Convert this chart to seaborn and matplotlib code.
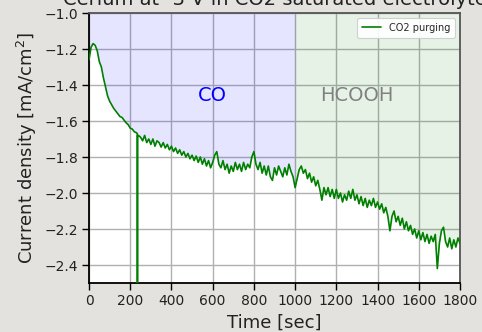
import numpy as np
import pandas as pd
import matplotlib
matplotlib.use("Agg")
import matplotlib.pyplot as plt
import seaborn as sns

# Chronoamperometry at -3 V, one reading every 10 s (mA/cm^2)
sample_step = 10
current_density = [
    -1.26, -1.19, -1.17, -1.18, -1.21, -1.27, -1.30, -1.36, -1.41, -1.46,    # 0-90
    -1.49, -1.51, -1.53, -1.545, -1.56, -1.575, -1.58, -1.595, -1.61, -1.62,  # 100-190
    -1.64, -1.645, -1.66, -1.665, -1.68, -1.69, -1.71, -1.68, -1.72, -1.70,   # 200-290
    -1.73, -1.70, -1.74, -1.71, -1.72, -1.745, -1.72, -1.75, -1.73, -1.76,    # 300-390
    -1.74, -1.77, -1.75, -1.78, -1.76, -1.79, -1.77, -1.80, -1.78, -1.81,     # 400-490
    -1.79, -1.82, -1.795, -1.83, -1.80, -1.84, -1.81, -1.85, -1.82, -1.86,    # 500-590
    -1.83, -1.79, -1.77, -1.84, -1.86, -1.82, -1.87, -1.84, -1.89, -1.85,     # 600-690
    -1.88, -1.83, -1.87, -1.84, -1.88, -1.83, -1.87, -1.84, -1.86, -1.80,     # 700-790
    -1.77, -1.84, -1.87, -1.83, -1.89, -1.85, -1.90, -1.85, -1.91, -1.93,     # 800-890
    -1.86, -1.90, -1.85, -1.88, -1.91, -1.86, -1.90, -1.84, -1.88, -1.91,     # 900-990
    -1.97, -1.92, -1.87, -1.85, -1.89, -1.87, -1.92, -1.89, -1.94, -1.91,     # 1000-1090
    -1.96, -1.93, -1.98, -2.04, -1.97, -2.01, -1.97, -2.02, -1.98, -2.03,     # 1100-1190
    -1.98, -2.03, -2.00, -2.05, -2.01, -2.04, -1.99, -2.03, -1.98, -2.04,     # 1200-1290
    -2.01, -2.06, -2.02, -2.07, -2.03, -2.08, -2.04, -2.07, -2.03, -2.08,     # 1300-1390
    -2.05, -2.09, -2.06, -2.11, -2.08, -2.13, -2.21, -2.13, -2.10, -2.16,     # 1400-1490
    -2.13, -2.18, -2.14, -2.20, -2.16, -2.21, -2.18, -2.23, -2.20, -2.25,     # 1500-1590
    -2.21, -2.26, -2.22, -2.27, -2.23, -2.28, -2.24, -2.27, -2.23, -2.42,     # 1600-1690
    -2.28, -2.21, -2.19, -2.27, -2.30, -2.25, -2.31, -2.26, -2.30, -2.25,     # 1700-1790
    -2.28,                                                                    # 1800
]

# short contact glitch recorded between regular readings
glitch_time = [234, 235, 236]
glitch_value = [-1.67, -2.62, -1.68]

co_end = 1000      # end of the CO-forming window [s]
run_end = 1800

x_ticks = list(range(0, 1801, 200))
y_ticks = [-2.4, -2.2, -2.0, -1.8, -1.6, -1.4, -1.2, -1.0]

bg = "#e4e2de"

sns.set_theme(style="whitegrid")
plt.rcParams["font.family"] = ["DejaVu Sans"]

time = np.arange(len(current_density)) * sample_step
df = pd.DataFrame({
    "time": np.concatenate([time, glitch_time]),
    "j": np.concatenate([current_density, glitch_value]),
}).sort_values("time").reset_index(drop=True)

fig = plt.figure(figsize=(4.82, 3.32), dpi=100, facecolor=bg)
ax = fig.add_axes([89 / 482, 1 - 283 / 332, 371 / 482, 270 / 332])
ax.set_facecolor("white")

sns.lineplot(data=df, x="time", y="j", ax=ax, color="green", linewidth=1.2,
             estimator=None, sort=True, label="CO2 purging", zorder=3)

co = df[df.time <= co_end]
hc = df[df.time >= co_end]
ax.fill_between(co.time, co.j, -1.0, color="blue", alpha=0.1, linewidth=0, zorder=1)
ax.fill_between(hc.time, hc.j, -1.0, color="green", alpha=0.1, linewidth=0, zorder=1)

ax.text(600, -1.46, "CO", color="blue", fontsize=14, ha="center", va="center")
ax.text(1300, -1.46, "HCOOH", color="grey", fontsize=14, ha="center", va="center")

ax.set_xlim(0, run_end)
ax.set_ylim(-2.5, -1.0)
ax.set_xticks(x_ticks)
ax.set_yticks(y_ticks)
ax.grid(True, color="#b0b0b0", linewidth=1.0, zorder=0)
ax.set_axisbelow(True)

ax.tick_params(axis="both", which="both", direction="out", length=5, width=1,
               color="black", labelsize=10, labelcolor="#222222",
               bottom=True, left=True, pad=3)
for side in ["left", "bottom"]:
    ax.spines[side].set_color("black")
    ax.spines[side].set_linewidth(1.3)
for side in ["top", "right"]:
    ax.spines[side].set_color("#555555")
    ax.spines[side].set_linewidth(1.3)

ax.set_xlabel("Time [sec]", fontsize=13, color="#222222", labelpad=4)
ax.set_ylabel("Current density [mA/cm$^2$]", fontsize=13, color="#222222", labelpad=4)
ax.set_title("Cerium at -3 V in CO2 saturated electrolyte", fontsize=14, color="#222222")

leg = ax.legend(loc="upper right", fontsize=7, frameon=True, fancybox=True,
                framealpha=0.9, edgecolor="#cccccc", borderpad=0.5)
leg.get_frame().set_linewidth(0.8)

fig.savefig("out.png", dpi=100, facecolor=bg)
